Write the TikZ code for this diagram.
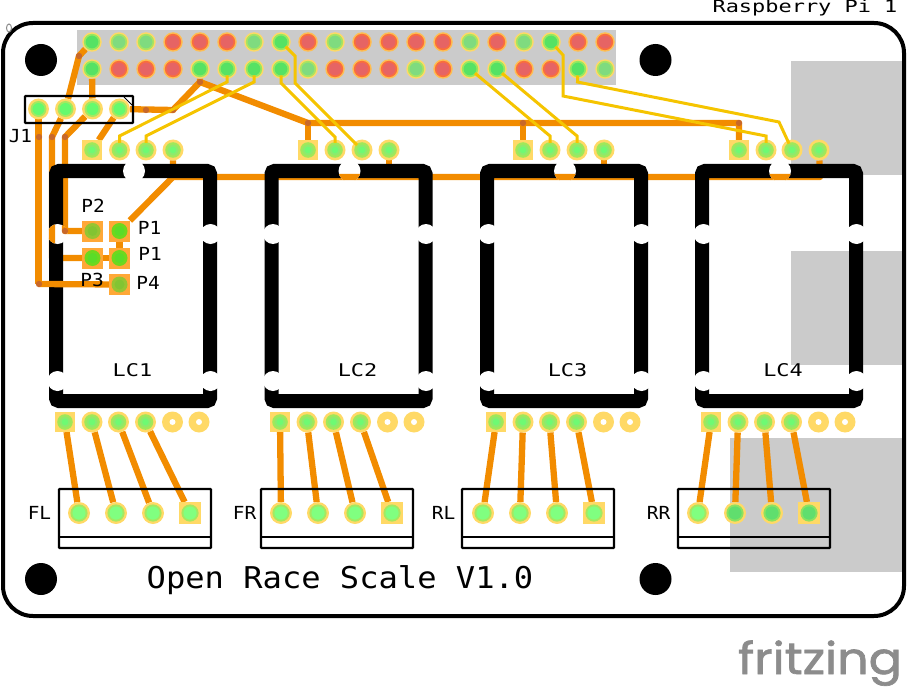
\documentclass[tikz,border=0pt]{standalone}
\usepackage{fontspec}
\usepackage{graphicx}
\newfontfamily\ocrfont{DejaVu Sans Mono}
\newfontfamily\logofont[FakeBold=1.5]{Poppins}
\definecolor{padout}{HTML}{FFD966}
\definecolor{trace}{HTML}{F28C00}
\definecolor{via}{HTML}{C8682A}
\definecolor{wirey}{HTML}{F5C400}
\definecolor{greyz}{HTML}{CBCBCB}
\definecolor{logogrey}{HTML}{8C8C8C}
\pgfdeclarelayer{greylayer}\pgfdeclarelayer{tracelayer}\pgfdeclarelayer{framelayer}
\pgfdeclarelayer{notchlayer}\pgfdeclarelayer{toplayer}\pgfdeclarelayer{wirelayer}
\pgfsetlayers{greylayer,tracelayer,framelayer,notchlayer,toplayer,main,wirelayer}
\tikzset{
 hdrg/.style={circle,inner sep=0pt,outer sep=0pt,minimum size=19.5pt,fill=padout,path picture={
   \fill[fill={rgb,255:red,170;green,228;blue,96}] (path picture bounding box.center) circle (8.2pt);
   \fill[fill={rgb,255:red,127;green,219;blue,127}] (path picture bounding box.center) circle (6.4pt);}},
 hdrb/.style={circle,inner sep=0pt,outer sep=0pt,minimum size=19.5pt,fill=padout,path picture={
   \fill[fill={rgb,255:red,150;green,232;blue,96}] (path picture bounding box.center) circle (8.2pt);
   \fill[fill={rgb,255:red,85;green,226;blue,100}] (path picture bounding box.center) circle (6.4pt);}},
 hdrr/.style={circle,inner sep=0pt,outer sep=0pt,minimum size=19.5pt,fill={rgb,255:red,255;green,190;blue,80},path picture={
   \fill[fill={rgb,255:red,250;green,110;blue,60}] (path picture bounding box.center) circle (8.2pt);
   \fill[fill={rgb,255:red,230;green,100;blue,100}] (path picture bounding box.center) circle (6.4pt);}},
 lcpad/.style={circle,inner sep=0pt,outer sep=0pt,minimum size=21pt,fill=padout,path picture={
   \fill[fill={rgb,255:red,160;green,232;blue,90}] (path picture bounding box.center) circle (7.8pt);
   \fill[fill={rgb,255:red,140;green,234;blue,110}] (path picture bounding box.center) circle (5.5pt);
   \fill[fill={rgb,255:red,110;green,250;blue,115}] (path picture bounding box.center) circle (3.3pt);}},
 lcsq/.style={rectangle,inner sep=0pt,outer sep=0pt,minimum size=20pt,fill=padout,path picture={
   \fill[fill={rgb,255:red,160;green,232;blue,90}] (path picture bounding box.center) circle (7.8pt);
   \fill[fill={rgb,255:red,140;green,234;blue,110}] (path picture bounding box.center) circle (5.5pt);
   \fill[fill={rgb,255:red,110;green,250;blue,115}] (path picture bounding box.center) circle (3.3pt);}},
 plainpad/.style={circle,inner sep=0pt,outer sep=0pt,minimum size=21pt,fill=padout,path picture={
   \fill[white] (path picture bounding box.center) circle (3pt);}},
 bigpad/.style={circle,inner sep=0pt,outer sep=0pt,minimum size=22pt,fill=padout,path picture={
   \fill[fill={rgb,255:red,165;green,232;blue,96}] (path picture bounding box.center) circle (8.6pt);
   \fill[fill={rgb,255:red,128;green,255;blue,128}] (path picture bounding box.center) circle (6.6pt);}},
 bigsq/.style={rectangle,inner sep=0pt,outer sep=0pt,minimum size=22pt,fill=padout,path picture={
   \fill[fill={rgb,255:red,165;green,232;blue,96}] (path picture bounding box.center) circle (8.6pt);
   \fill[fill={rgb,255:red,128;green,255;blue,128}] (path picture bounding box.center) circle (6.6pt);}},
 bigdark/.style={circle,inner sep=0pt,outer sep=0pt,minimum size=22pt,fill=padout,path picture={
   \fill[fill={rgb,255:red,140;green,226;blue,96}] (path picture bounding box.center) circle (8.6pt);
   \fill[fill={rgb,255:red,96;green,222;blue,110}] (path picture bounding box.center) circle (6.6pt);}},
 bigdarksq/.style={rectangle,inner sep=0pt,outer sep=0pt,minimum size=22pt,fill=padout,path picture={
   \fill[fill={rgb,255:red,140;green,226;blue,96}] (path picture bounding box.center) circle (8.6pt);
   \fill[fill={rgb,255:red,96;green,222;blue,110}] (path picture bounding box.center) circle (6.6pt);}},
 jpad/.style={circle,inner sep=0pt,outer sep=0pt,minimum size=21pt,fill=padout,path picture={
   \fill[fill={rgb,255:red,165;green,232;blue,96}] (path picture bounding box.center) circle (8pt);
   \fill[fill={rgb,255:red,100;green,250;blue,110}] (path picture bounding box.center) circle (6pt);}},
 ppad/.style={rectangle,inner sep=0pt,outer sep=0pt,minimum size=21pt,fill={rgb,255:red,255;green,168;blue,55},path picture={
   \fill[fill={rgb,255:red,110;green,216;blue,30}] (path picture bounding box.center) circle (8pt);
   \fill[fill={rgb,255:red,90;green,220;blue,40}] (path picture bounding box.center) circle (5pt);}},
 ppaddim/.style={rectangle,inner sep=0pt,outer sep=0pt,minimum size=21pt,fill={rgb,255:red,255;green,168;blue,55},path picture={
   \fill[fill={rgb,255:red,150;green,196;blue,50}] (path picture bounding box.center) circle (8pt);
   \fill[fill={rgb,255:red,130;green,196;blue,50}] (path picture bounding box.center) circle (5pt);}},
 track/.style={draw=trace,line width=6.3pt,line join=round},
 wire/.style={draw=wirey,line width=3pt,line join=miter,shorten <=6.5pt,shorten >=7pt},
 lcframe/.style={draw=black,line width=14pt,rounded corners=3pt},
 notch/.style={fill=white},
 silk/.style={draw=black,line width=2.3pt,rounded corners=0.8pt},
 txt/.style={inner sep=0pt,outer sep=0pt,anchor=base,text=black},
 hole/.style={fill=black,circle,inner sep=0pt,minimum size=32pt},
}
\newcommand{\lblt}[1]{{\ocrfont\fontsize{18}{18}\selectfont\scalebox{1.08}[1]{#1}}}
\newcommand{\lblw}[1]{{\ocrfont\fontsize{17.5}{18}\selectfont\scalebox{1.25}[1]{#1}}}
\newcommand{\mytracks}{%
 \draw[track] (t1) -- (79,56) -- (j2);
 \draw[track] (b1) -- (j3);
 \draw[track] (j1) -- (38.5,284);
 \draw[track] (j2) -- (52,137) -- (52,258) -- (pl2);
 \draw[track] (pl2) -- (pr2);
 \draw[track] (j3) -- (65,137) -- (65,231) -- (pl1);
 \draw[track] (j4) -- (a1);
 \draw[track] (b5) -- (200,82) -- (173,110) -- (j4);
 \draw[track] (200,82) -- (308,123) -- (739,123) -- (d1);
 \draw[track] (308,123) -- (b1of2);
 \draw[track] (523,123) -- (c1);
 \draw[track] (a4) -- (173,177) -- (820,177) -- (d4);
 \draw[track] (389,177) -- (b4of2);
 \draw[track] (604,177) -- (c4);
 \draw[track] (173,177) -- (pr1);
 \draw[track] (pr1) -- (pr2);
}
\begin{document}
\begin{tikzpicture}[x=1pt,y=-1pt]
\useasboundingbox (0,0) rectangle (909,687);
% pads
\foreach \i/\s in {1/hdrb,2/hdrg,3/hdrg,4/hdrr,5/hdrr,6/hdrr,7/hdrg,8/hdrb,9/hdrr,10/hdrg,11/hdrr,12/hdrr,13/hdrr,14/hdrr,15/hdrg,16/hdrr,17/hdrg,18/hdrb,19/hdrr,20/hdrr}
  \node[\s] (t\i) at ({92+27*(\i-1)},42) {};
\foreach \i/\s in {1/hdrb,2/hdrr,3/hdrr,4/hdrr,5/hdrb,6/hdrb,7/hdrb,8/hdrb,9/hdrg,10/hdrr,11/hdrr,12/hdrr,13/hdrg,14/hdrr,15/hdrb,16/hdrb,17/hdrr,18/hdrr,19/hdrb,20/hdrg}
  \node[\s] (b\i) at ({92+27*(\i-1)},69) {};
\foreach \i/\x in {1/38.5,2/65.5,3/92.5,4/119.5} \node[jpad] (j\i) at (\x,109) {};
% upper connector pads
\node[lcsq] (a1) at (92,150) {}; \node[lcpad] (a2) at (119.5,150) {}; \node[lcpad] (a3) at (146,150) {}; \node[lcpad] (a4) at (173,150) {};
\node[lcsq] (b1of2) at (308,150) {}; \node[lcpad] (b2of2) at (335,150) {}; \node[lcpad] (b3of2) at (362,150) {}; \node[lcpad] (b4of2) at (389,150) {};
\node[lcsq] (c1) at (523,150) {}; \node[lcpad] (c2) at (550,150) {}; \node[lcpad] (c3) at (577,150) {}; \node[lcpad] (c4) at (604,150) {};
\node[lcsq] (d1) at (739,150) {}; \node[lcpad] (d2) at (766,150) {}; \node[lcpad] (d3) at (792,150) {}; \node[lcpad] (d4) at (819,150) {};
% P pads
\node[ppaddim] (pl1) at (92.5,231) {}; \node[ppad] (pr1) at (119.5,231) {};
\node[ppad] (pl2) at (92.5,258) {}; \node[ppad] (pr2) at (119.5,258) {};
\node[ppaddim] (pr3) at (119.5,284.5) {};
% lower LC pads
\foreach \g/\x in {e/65,f/280,g/496,h/711}{
  \node[lcsq] (\g1) at (\x,422) {};
  \node[lcpad] (\g2) at ({\x+27},422) {};
  \node[lcpad] (\g3) at ({\x+53.5},422) {};
  \node[lcpad] (\g4) at ({\x+80.5},422) {};
  \node[plainpad] (\g5) at ({\x+107.5},422) {};
  \node[plainpad] (\g6) at ({\x+134},422) {};
}
% terminal pads
\foreach \g/\x in {k/79,m/281,n/483}{
  \node[bigpad] (\g1) at (\x,513) {};
  \node[bigpad] (\g2) at ({\x+37},513) {};
  \node[bigpad] (\g3) at ({\x+74},513) {};
  \node[bigsq] (\g4) at ({\x+111},513) {};
}
\node[bigpad] (r1) at (698,513) {};
\node[bigdark] (r2) at (735,513) {};
\node[bigdark] (r3) at (772,513) {};
\node[bigdarksq] (r4) at (809,513) {};
% greys
\begin{pgfonlayer}{greylayer}
 \fill[greyz] (77,30) rectangle (616,85);
 \fill[greyz] (791,61) rectangle (903,175);
 \fill[greyz] (791,251) rectangle (903,365);
 \fill[greyz] (730,438) rectangle (903,572);
\end{pgfonlayer}
% tracks
\begin{pgfonlayer}{tracelayer}
 \mytracks
\end{pgfonlayer}
% LC frames and notches
\begin{pgfonlayer}{framelayer}
 \foreach \x in {49,264.5,480,695}{
   \draw[lcframe] ({\x+7},171) rectangle ({\x+161},401);
 }
\end{pgfonlayer}
\begin{pgfonlayer}{notchlayer}
 \foreach \x in {49,264.5,480,695}{
   \fill[notch] ({\x+85},171) circle (11pt);
   \fill[notch] ({\x+8.5},234) circle (10pt);
   \fill[notch] ({\x+161.5},234) circle (10pt);
   \fill[notch] ({\x+8.5},381) circle (10pt);
   \fill[notch] ({\x+161.5},381) circle (10pt);
 }
 \begin{scope}
  \clip (134,171) circle (11pt) (57.5,234) circle (10pt) (349.5,171) circle (11pt) (565,171) circle (11pt) (780,171) circle (11pt);
  \mytracks
 \end{scope}
\end{pgfonlayer}
\begin{pgfonlayer}{toplayer}
 % board
 \draw[black,line width=4pt,rounded corners=30pt] (3,23) rectangle (904,616);
 \draw[black!45,line width=1pt] (9,28) ellipse (2.5pt and 4pt);
 % holes
 \node[hole] (hole1) at (41,60) {}; \node[hole] (hole2) at (655.5,60) {};
 \node[hole] (hole3) at (41,579) {}; \node[hole] (hole4) at (655.5,579) {};
 % crossing track
 \draw[track] (38.5,284) -- (pr3);
 % lower tracks
 \foreach \a/\b in {e1/k1,e2/k2,e3/k3,e4/k4,f1/m1,f2/m2,f3/m3,f4/m4,g1/n1,g2/n2,g3/n3,g4/n4,h1/r1,h2/r2,h3/r3,h4/r4}
   \draw[track] (\a) -- (\b);
 % vias
 \foreach \p in {(79,56),(39,137),(52,137),(65,137),(39,284),(65,231),(146,110),(173,110),(200,82),(308,123),(523,123),(739,123)}
   \fill[via] \p circle (3.2pt);
 % silkscreen
 \draw[silk] (25,96) rectangle (133,123);
 \draw[black,line width=1pt] (124,97) -- (132,105);
 \foreach \x in {59,261,462,678}{
   \draw[silk] (\x,489) rectangle ({\x+152},548);
   \draw[black,line width=1.5pt] (\x,537) -- ({\x+152},537);
 }
\end{pgfonlayer}
\begin{pgfonlayer}{wirelayer}
 \draw[wire] (b6.center) -- (227,82) -- (119.5,136) -- (a2.center);
 \draw[wire] (b7.center) -- (254,82) -- (146,136) -- (a3.center);
 \draw[wire] (t8.center) -- (295,56) -- (295,83) -- (b3of2.center);
 \draw[wire] (b8.center) -- (281,83) -- (335,137) -- (b2of2.center);
 \draw[wire] (b15.center) -- (550,136) -- (c2.center);
 \draw[wire] (b16.center) -- (577,136) -- (c3.center);
 \draw[wire] (t18.center) -- (563,55) -- (563,96) -- (766,136) -- (d2.center);
 \draw[wire] (b19.center) -- (577.5,82) -- (779,122) -- (d3.center);
\end{pgfonlayer}
% text
\node[txt] (tRPi) at (805,12.5) {{\ocrfont\fontsize{17}{17}\selectfont\scalebox{1.29}[1]{Raspberry Pi 1}}};
\node[txt] (tJ1) at (20.5,142.5) {\lblt{J1}};
\node[txt] (tP2) at (93,212) {\lblt{P2}};
\node[txt] (tP1a) at (149.5,234) {\lblt{P1}};
\node[txt] (tP1b) at (150,260.5) {\lblt{P1}};
\node[txt] (tP3) at (92,286) {\lblt{P3}};
\node[txt] (tP4) at (148,289) {\lblt{P4}};
\node[txt] (tL1) at (132.5,376) {\lblw{LC1}};
\node[txt] (tL2) at (357.5,376) {\lblw{LC2}};
\node[txt] (tL3) at (567.5,376) {\lblw{LC3}};
\node[txt] (tL4) at (783,376) {\lblw{LC4}};
\node[txt] (tFL) at (39.5,519) {\lblt{FL}};
\node[txt] (tFR) at (244.5,519) {\lblt{FR}};
\node[txt] (tRL) at (443.5,519) {\lblt{RL}};
\node[txt] (tRR) at (658.5,519) {\lblt{RR}};
\node[txt] (tTitle) at (340,588) {{\ocrfont\fontsize{30}{30}\selectfont\scalebox{1.07}[1]{Open Race Scale V1.0}}};
\node[txt,text=logogrey] (tLogo) at (820,674) {{\logofont\fontsize{44}{44}\selectfont\scalebox{1.12}[1]{fritzing}}};
\end{tikzpicture}
\end{document}
